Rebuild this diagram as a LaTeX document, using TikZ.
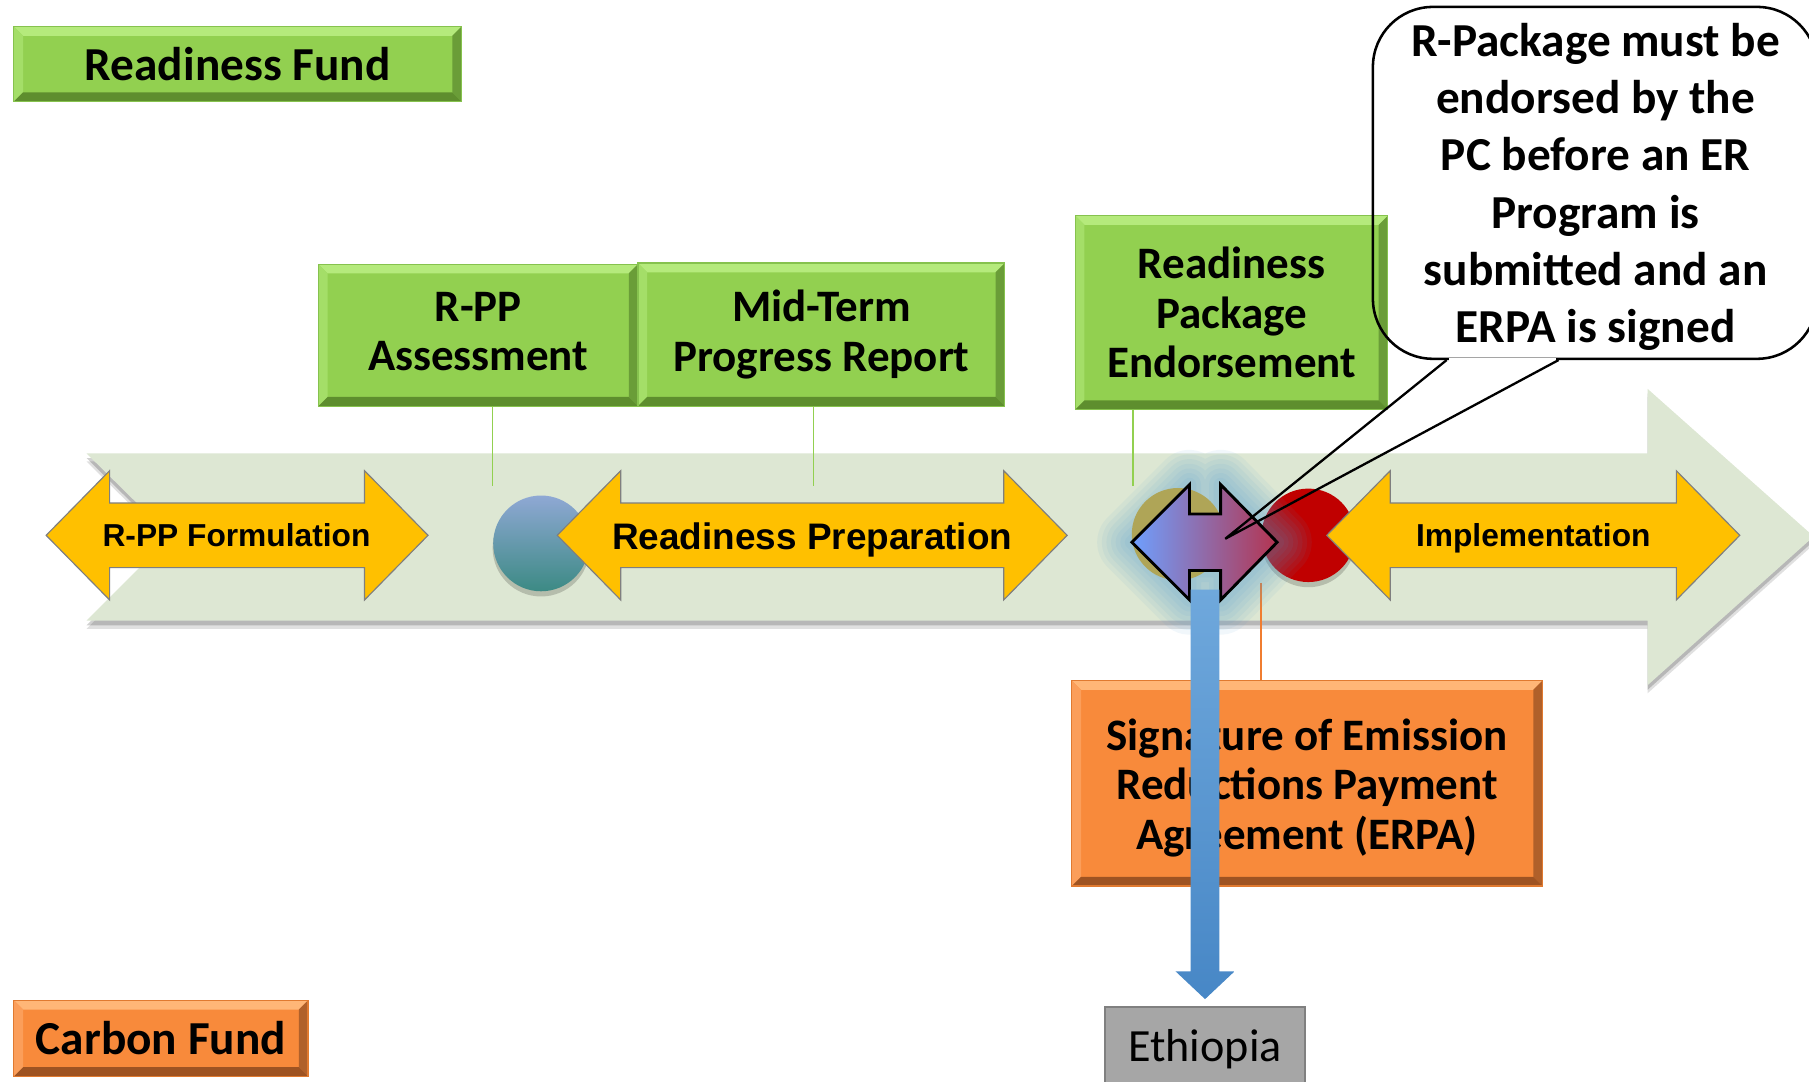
\documentclass[tikz,border=0pt]{standalone}
\usepackage{fontspec}
\setmainfont{Carlito}
\newfontfamily\arialfont{Liberation Sans}
\usetikzlibrary{calc}
\definecolor{bgarrow}{HTML}{DDE7D3}
\definecolor{ygold}{HTML}{FFC000}
\definecolor{yedge}{HTML}{7F7F7F}
\definecolor{gbase}{HTML}{92D050}
\definecolor{gtop}{HTML}{B5EA7C}
\definecolor{gleft}{HTML}{A4DE68}
\definecolor{gright}{HTML}{6A9D38}
\definecolor{gbot}{HTML}{5E8E2E}
\definecolor{gedge}{HTML}{86C24E}
\definecolor{gline}{HTML}{92D050}
\definecolor{obase}{HTML}{F88A3B}
\definecolor{otop}{HTML}{FFB677}
\definecolor{oleft}{HTML}{FB9E5A}
\definecolor{oright}{HTML}{B0602A}
\definecolor{obot}{HTML}{9E5322}
\definecolor{oedge}{HTML}{E07A30}
\definecolor{oline}{HTML}{F07D30}
\definecolor{glowc}{HTML}{4F9AD0}
\definecolor{pleft}{HTML}{6EA0FF}
\definecolor{pright}{HTML}{B43450}
\definecolor{btop}{HTML}{8FA8D4}
\definecolor{bbot}{HTML}{3C8A84}
\definecolor{olive}{HTML}{AFA557}
\definecolor{dred}{HTML}{C00000}
\definecolor{artop}{HTML}{6FA8DC}
\definecolor{arbot}{HTML}{4787C6}
\definecolor{ethfill}{HTML}{A6A6A6}
\definecolor{ethedge}{HTML}{808080}
\tikzset{
  bevelbox/.style n args={5}{fill=#1, path picture={
    \fill[#2] (path picture bounding box.north west) -- (path picture bounding box.north east) -- ([shift={(-8pt,-8pt)}]path picture bounding box.north east) -- ([shift={(8pt,-8pt)}]path picture bounding box.north west) -- cycle;
    \fill[#3] (path picture bounding box.north west) -- (path picture bounding box.south west) -- ([shift={(8pt,8pt)}]path picture bounding box.south west) -- ([shift={(8pt,-8pt)}]path picture bounding box.north west) -- cycle;
    \fill[#4] (path picture bounding box.north east) -- (path picture bounding box.south east) -- ([shift={(-8pt,8pt)}]path picture bounding box.south east) -- ([shift={(-8pt,-8pt)}]path picture bounding box.north east) -- cycle;
    \fill[#5] (path picture bounding box.south west) -- (path picture bounding box.south east) -- ([shift={(-8pt,8pt)}]path picture bounding box.south east) -- ([shift={(8pt,8pt)}]path picture bounding box.south west) -- cycle;
  }},
  boxtext/.style={inner sep=0pt, align=center, font=\fontsize{39}{43}\selectfont\bfseries},
  gbox/.style={bevelbox={gbase}{gtop}{gleft}{gright}{gbot}, draw=gedge, line width=1pt, boxtext},
  obox/.style={bevelbox={obase}{otop}{oleft}{oright}{obot}, draw=oedge, line width=1pt, boxtext},
  fundfont/.style={font=\fontsize{41}{45}\selectfont\bfseries},
  ylabel/.style={inner sep=0pt, anchor=base, font=\arialfont\fontsize{27.5}{30}\selectfont\bfseries},
  yarrow/.style={fill=ygold, draw=yedge, line width=1pt, line join=miter},
  gconn/.style={draw=gline, line width=1.3pt},
  oconn/.style={draw=oline, line width=1.3pt},
  callout/.style={draw=black, line width=2.2pt, rounded corners=52pt, inner sep=0pt},
  callfont/.style={inner sep=0pt, align=center, font=\fontsize{41}{49.6}\selectfont\bfseries},
}
\newcommand\bgpath{(75,393) -- (1428,393) -- (1428,337) -- (1572,465) -- (1428,594) -- (1428,538) -- (75,538) -- (148,465) -- cycle}
\newcommand\yarrowpath[2]{(#1,464) -- (#1+55,408) -- (#1+55,436) -- (#2-55,436) -- (#2-55,408) -- (#2,464) -- (#2-55,520) -- (#2-55,492) -- (#1+55,492) -- (#1+55,520) -- cycle}
\newcommand\pshape{(981,470) -- (1031,420) -- (1031,445.5) -- (1058,445.5) -- (1058,420) -- (1107,470) -- (1058,520) -- (1058,494.5) -- (1031,494.5) -- (1031,520) -- cycle}
\begin{document}
\begin{tikzpicture}[x=1pt,y=-1pt]
\fill[white] (0,0) rectangle (1568,937);
\useasboundingbox (0,0) rectangle (1568,937);

% background timeline arrow with shadow
\begin{scope}[shift={(0,7)}]
  \fill[black, opacity=0.12] \bgpath;
\end{scope}
\begin{scope}[shift={(0,4)}]
  \fill[black, opacity=0.18] \bgpath;
\end{scope}
\fill[bgarrow] \bgpath;

% milestone boxes
\node[gbox, minimum width=277pt, minimum height=123pt] (rppa) at (414.5,290.5) {};
\node[boxtext] (rppatext) at (414.5,287.5) {R-PP\\Assessment};
\node[gbox, minimum width=318pt, minimum height=124pt] (mtpr) at (712,290) {Mid-Term\\Progress Report};
\node[gbox, minimum width=271pt, minimum height=168pt] (rpe) at (1067.5,271) {Readiness\\Package\\Endorsement};

% connector coordinates
\coordinate (c1) at (427,421);
\coordinate (c2) at (705,421);
\coordinate (c3) at (982,421);
\coordinate (o1) at (1093,505);
\draw[gconn] (rppa.south -| c1) -- (c1);
\draw[gconn] (mtpr.south -| c2) -- (c2);
\draw[gconn] (rpe.south -| c3) -- (c3);

% circles
\fill[black, opacity=0.18] (469,475) circle (42pt);
\node[circle, minimum size=83pt, inner sep=0pt, top color=btop, bottom color=bbot] (bc) at (469,471) {};
\fill[black, opacity=0.18] (1134,468) circle (41pt);
\node[circle, minimum size=81pt, inner sep=0pt, fill=dred] (rc) at (1134,464) {};

% ERPA box and orange connector
\node[obox, minimum width=408pt, minimum height=178pt] (erpa) at (1133,679) {};
\node[boxtext] (erpatext) at (1133,683) {Signature of Emission\\Reductions Payment\\Agreement (ERPA)};
\draw[oconn] (o1) -- (o1 |- erpa.north);

% yellow phase arrows
\fill[yarrow] \yarrowpath{40}{371};
\node[ylabel] (rppf) at (205,474) {R-PP Formulation};
\fill[yarrow] \yarrowpath{483}{925};
\node[ylabel, font=\arialfont\fontsize{32}{34}\selectfont\bfseries] (rprep) at (704,476.5) {Readiness Preparation};
\fill[yarrow] \yarrowpath{1150}{1508};
\node[ylabel] (impl) at (1329,474) {Implementation};

% glow, olive circle and endorsement double arrow
\foreach \w in {60,52,44,36,28,20,12}{
  \draw[glowc, line width=\w pt, line join=round, opacity=0.075] \pshape;
}
\node[circle, minimum size=80pt, inner sep=0pt, fill=olive] (oc) at (1021,463) {};
\coordinate (ps) at (1044.5,470);
\shadedraw[left color=pleft, right color=pright, draw=black, line width=2.5pt, line join=miter] \pshape;

% fund labels
\node[gbox, fundfont, minimum width=388pt, minimum height=65pt] (rfund) at (206,55.5) {Readiness Fund};
\node[obox, fundfont, minimum width=255pt, minimum height=66pt] (cfund) at (139.5,900) {Carbon Fund};

% Ethiopia
\node[fill=ethfill, draw=ethedge, line width=2pt, minimum width=173pt, minimum height=72pt, inner sep=0pt, font=\fontsize{40}{44}\selectfont] (eth) at (1044.5,909) {Ethiopia};

% blue arrow from endorsement to Ethiopia
\shade[top color=artop, bottom color=arbot]
  ($(ps)+(-12.5,41)$) -- ($(ps)+(12.5,41)$) -- ($(eth.north)+(12.5,-30)$) -- ($(eth.north)+(25.5,-30)$) -- ($(eth.north)+(0,-6)$) -- ($(eth.north)+(-25.5,-30)$) -- ($(eth.north)+(-12.5,-30)$) -- cycle;

% callout
\node[callout, minimum width=385pt, minimum height=305pt] (call) at (1382.5,158.5) {};
\node[callfont] (calltext) at (1383,162) {R-Package must be\\endorsed by the\\PC before an ER\\Program is\\submitted and an\\ERPA is signed};
\coordinate (tipc) at (1062,467);
\draw[white, line width=4pt] ($(call.south west)+(67,0)$) -- ($(call.south west)+(160,0)$);
\draw[black, line width=2pt, line join=miter] ($(call.south west)+(65,0)$) -- (tipc) -- ($(call.south west)+(162,0)$);
\end{tikzpicture}
\end{document}
